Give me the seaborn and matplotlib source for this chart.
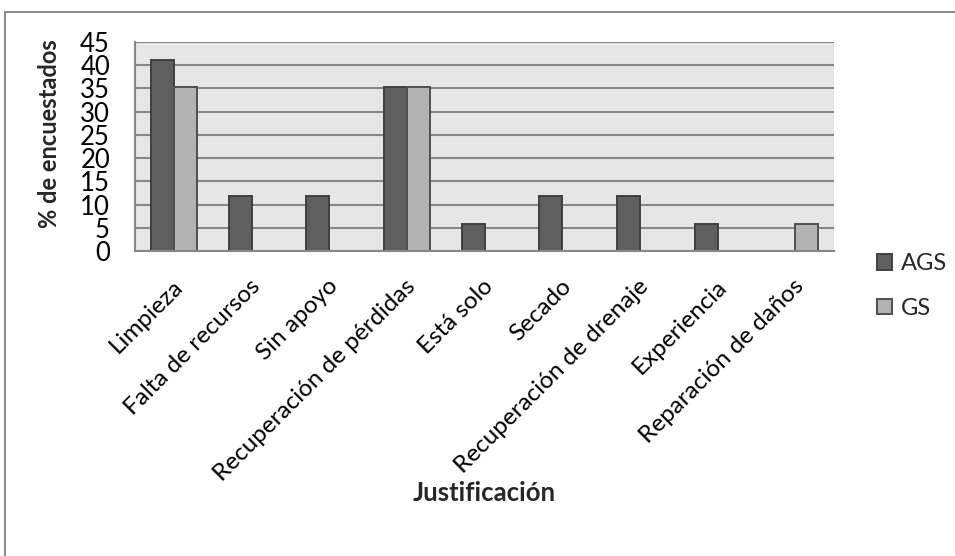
import matplotlib
matplotlib.use("Agg")
import matplotlib.pyplot as plt
import matplotlib.transforms as mtransforms
from matplotlib.lines import Line2D
from matplotlib.patches import Patch
import seaborn as sns
import pandas as pd

# Respuestas por justificación (% de encuestados)
categorias = [
    "Limpieza",
    "Falta de recursos",
    "Sin apoyo",
    "Recuperación de pérdidas",
    "Está solo",
    "Secado",
    "Recuperación de drenaje",
    "Experiencia",
    "Reparación de daños",
]
ags = [41.2, 11.8, 11.8, 35.3, 5.9, 11.8, 11.8, 5.9, 0.0]
gs = [35.3, 0.0, 0.0, 35.3, 0.0, 0.0, 0.0, 0.0, 5.9]
grupos = ["AGS", "GS"]
y_ticks = [0, 5, 10, 15, 20, 25, 30, 35, 40, 45]

df = pd.DataFrame({
    "Justificación": categorias * 2,
    "valor": ags + gs,
    "grupo": ["AGS"] * len(categorias) + ["GS"] * len(categorias),
})

sns.set_style("white")
plt.rcParams["font.family"] = ["Lato", "DejaVu Sans"]

colores = {"AGS": "#5f5f5f", "GS": "#b3b3b3"}
bordes = {"AGS": "#404040", "GS": "#4f4f4f"}
grid_col = "#878787"

fig = plt.figure(figsize=(9.55, 5.56), dpi=100)
W, H = 955, 556
ax = fig.add_axes([135 / W, 1 - 251 / H, (834 - 135) / W, (251 - 42) / H])
ax.set_facecolor("#e6e6e6")

sns.barplot(data=df, x="Justificación", y="valor", hue="grupo",
            hue_order=grupos, order=categorias, palette=colores,
            width=0.59, ax=ax, legend=False, saturation=1)

# bordes de las barras; las barras de valor cero no se dibujan
for cont, g in zip(ax.containers, grupos):
    for p in cont:
        p.set_edgecolor(bordes[g])
        p.set_linewidth(1.4)
        if p.get_height() == 0:
            p.set_visible(False)

ax.set_ylim(0, 45)
ax.set_xlim(-0.5, len(categorias) - 0.5)
ax.set_yticks(y_ticks)
ax.yaxis.grid(True, color=grid_col, linewidth=1.5)
ax.set_axisbelow(True)
for s in ["top", "right"]:
    ax.spines[s].set_visible(False)
for s in ["left", "bottom"]:
    ax.spines[s].set_color(grid_col)
    ax.spines[s].set_linewidth(1.5)

ax.tick_params(axis="y", length=6, width=1.5, color=grid_col, pad=12,
               labelsize=18.5, labelcolor="black")
ax.tick_params(axis="x", length=0, pad=23, labelsize=17.5, labelcolor="black")

shift = mtransforms.ScaledTranslation(4 / 72, 0, fig.dpi_scale_trans)
for lab in ax.get_xticklabels():
    lab.set_rotation(45)
    lab.set_ha("right")
    lab.set_va("center")
    lab.set_rotation_mode("anchor")
    lab.set_transform(lab.get_transform() + shift)

ax.set_xlabel("Justificación", fontsize=18.5, fontweight="bold", labelpad=0)
ax.xaxis.set_label_coords(484 / W, 1 - 481 / H, transform=fig.transFigure)
ax.set_ylabel("% de encuestados", fontsize=17, fontweight="bold")
ax.yaxis.set_label_coords(61 / W, 1 - 134 / H, transform=fig.transFigure)

handles = [Patch(facecolor=colores[g], edgecolor=bordes[g], linewidth=1.4)
           for g in grupos]
fig.legend(handles, grupos, loc="center left",
           bbox_to_anchor=(877 / W, 1 - 286 / H), frameon=False,
           fontsize=17, handlelength=0.65, handleheight=0.65,
           handletextpad=0.35, labelspacing=1.0, borderpad=0,
           borderaxespad=0)

# marco exterior del gráfico
fig.add_artist(Line2D([5 / W, 5 / W], [0, 1 - 12 / H], color="#8c8c8c",
                      linewidth=1.5, transform=fig.transFigure))
fig.add_artist(Line2D([5 / W, 1], [1 - 12 / H, 1 - 12 / H], color="#8c8c8c",
                      linewidth=1.5, transform=fig.transFigure))

fig.savefig("out.png", dpi=100)
